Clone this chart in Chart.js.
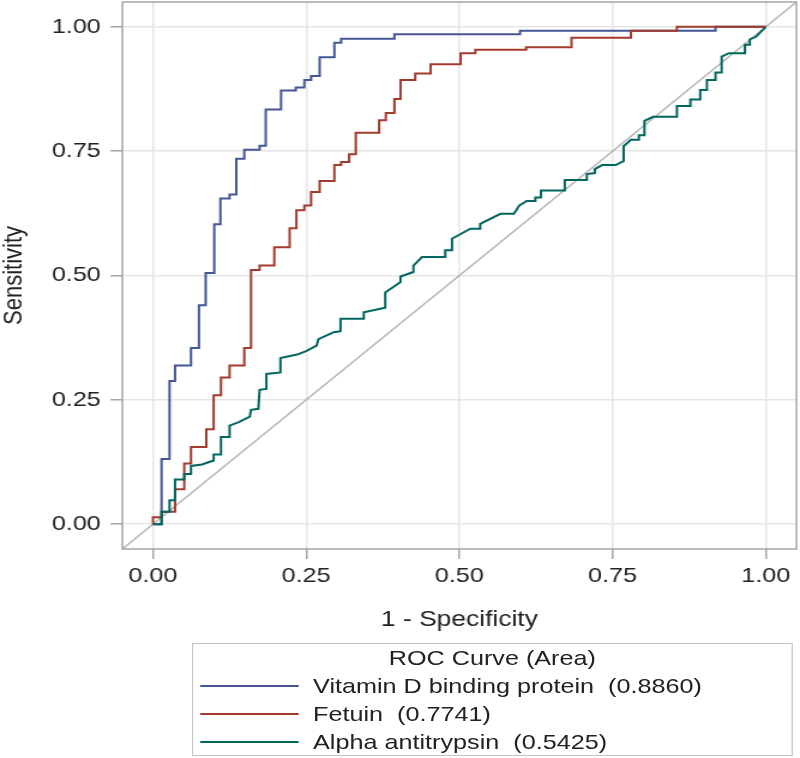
<!DOCTYPE html>
<html>
<head>
<meta charset="utf-8">
<script src="https://cdn.jsdelivr.net/npm/chart.js@4/dist/chart.umd.min.js"></script>
<style>
  html, body { margin: 0; padding: 0; background: #fff; overflow: hidden; }
  /* the reference plot is a square SAS graph stretched sideways, so draw narrow and stretch */
  #wrap { position: relative; width: 667px; height: 758px; transform: scaleX(1.1994); transform-origin: 0 0; }
  #roc { position: absolute; left: 0; top: 0; }
  #legend { position: absolute; left: 160px; top: 643px; width: 499px; height: 111px;
            border: 1px solid #c4c4c4; font: 21px "Liberation Sans", Arial, sans-serif; color: #222; }
  #legend .title { height: 28px; line-height: 28px; text-align: center; }
  #legend .row { position: relative; height: 28px; line-height: 28px; white-space: pre; }
  #legend .swatch { position: absolute; left: 6px; top: 13px; width: 82px; height: 0; border-top: 2px solid; }
  #legend .label { position: absolute; left: 100px; top: 0; }
</style>
</head>
<body>
<div id="wrap">
  <canvas id="roc" width="667" height="758"></canvas>
  <div id="legend"></div>
</div>
<script>
// axis setup
const tickValues = [0, 0.25, 0.5, 0.75, 1];
const axisMin = -0.05;
const axisMax = 1.05;

const legendTitle = 'ROC Curve (Area)';
const seriesNames = [
  'Vitamin D binding protein  (0.8860)',
  'Fetuin  (0.7741)',
  'Alpha antitrypsin  (0.5425)'
];
const seriesColors = ['#445694', '#A23A2E', '#01665E'];

// Vitamin D binding protein: 1 - specificity / sensitivity vertices
const vdbpFpr = [0, 0.014, 0.014, 0.027, 0.027, 0.036, 0.036, 0.062, 0.062, 0.075,
  0.075, 0.086, 0.086, 0.100, 0.100, 0.110, 0.110, 0.125, 0.125, 0.136,
  0.136, 0.149, 0.149, 0.174, 0.174, 0.184, 0.184, 0.209, 0.209, 0.233,
  0.233, 0.247, 0.247, 0.258, 0.258, 0.272, 0.272, 0.296, 0.296, 0.307,
  0.307, 0.394, 0.394, 0.599, 0.599, 0.918, 0.918, 1];
const vdbpTpr = [0, 0, 0.131, 0.131, 0.288, 0.288, 0.319, 0.319, 0.354, 0.354,
  0.440, 0.440, 0.505, 0.505, 0.603, 0.603, 0.655, 0.655, 0.663, 0.663,
  0.735, 0.735, 0.753, 0.753, 0.761, 0.761, 0.834, 0.834, 0.872, 0.872,
  0.878, 0.878, 0.893, 0.893, 0.901, 0.901, 0.939, 0.939, 0.968, 0.968,
  0.976, 0.976, 0.985, 0.985, 0.992, 0.992, 1, 1];

// Fetuin
const fetFpr = [0, 0, 0.014, 0.014, 0.036, 0.036, 0.051, 0.051, 0.062, 0.062,
  0.087, 0.087, 0.099, 0.099, 0.111, 0.111, 0.125, 0.125, 0.149, 0.149,
  0.160, 0.160, 0.174, 0.174, 0.198, 0.198, 0.223, 0.223, 0.234, 0.234,
  0.247, 0.247, 0.258, 0.258, 0.272, 0.272, 0.296, 0.296, 0.307, 0.307,
  0.320, 0.320, 0.331, 0.331, 0.369, 0.369, 0.380, 0.380, 0.394, 0.394,
  0.404, 0.404, 0.428, 0.428, 0.453, 0.453, 0.502, 0.502, 0.526, 0.526,
  0.609, 0.609, 0.683, 0.683, 0.780, 0.780, 0.855, 0.855, 1];
const fetTpr = [0, 0.014, 0.014, 0.025, 0.025, 0.070, 0.070, 0.122, 0.122, 0.155,
  0.155, 0.191, 0.191, 0.259, 0.259, 0.295, 0.295, 0.319, 0.319, 0.354,
  0.354, 0.511, 0.511, 0.520, 0.520, 0.557, 0.557, 0.595, 0.595, 0.631,
  0.631, 0.641, 0.641, 0.668, 0.668, 0.690, 0.690, 0.722, 0.722, 0.728,
  0.728, 0.744, 0.744, 0.787, 0.787, 0.812, 0.812, 0.827, 0.827, 0.855,
  0.855, 0.893, 0.893, 0.906, 0.906, 0.925, 0.925, 0.947, 0.947, 0.954,
  0.954, 0.959, 0.959, 0.978, 0.978, 0.992, 0.992, 1, 1];

// Alpha antitrypsin
const aatFpr = [0, 0.014, 0.014, 0.027, 0.027, 0.036, 0.036, 0.051, 0.051, 0.062,
  0.062, 0.080, 0.099, 0.099, 0.111, 0.111, 0.125, 0.125, 0.140, 0.158,
  0.160, 0.172, 0.174, 0.185, 0.185, 0.208, 0.208, 0.235, 0.250, 0.267,
  0.270, 0.295, 0.306, 0.306, 0.344, 0.344, 0.371, 0.379, 0.379, 0.404, 0.404, 0.425,
  0.425, 0.439, 0.477, 0.477, 0.488, 0.488, 0.518, 0.534, 0.534, 0.567,
  0.589, 0.598, 0.610, 0.624, 0.624, 0.633, 0.633, 0.672, 0.672, 0.708,
  0.708, 0.721, 0.721, 0.733, 0.755, 0.768, 0.768, 0.780, 0.793, 0.793,
  0.802, 0.802, 0.816, 0.855, 0.855, 0.877, 0.877, 0.893, 0.893, 0.904,
  0.904, 0.918, 0.918, 0.928, 0.928, 0.940, 0.966, 0.966, 0.974, 0.974,
  0.984, 1];
const aatTpr = [0, 0, 0.025, 0.025, 0.048, 0.048, 0.090, 0.090, 0.101, 0.101,
  0.117, 0.120, 0.128, 0.140, 0.140, 0.175, 0.175, 0.198, 0.205, 0.216,
  0.230, 0.232, 0.270, 0.272, 0.302, 0.305, 0.334, 0.341, 0.348, 0.359,
  0.372, 0.386, 0.388, 0.413, 0.413, 0.426, 0.433, 0.435, 0.466, 0.487, 0.498, 0.507,
  0.520, 0.537, 0.537, 0.551, 0.551, 0.574, 0.594, 0.594, 0.604, 0.624,
  0.624, 0.641, 0.650, 0.650, 0.657, 0.657, 0.671, 0.671, 0.692, 0.692,
  0.704, 0.706, 0.714, 0.722, 0.722, 0.730, 0.760, 0.773, 0.773, 0.782,
  0.782, 0.811, 0.819, 0.819, 0.841, 0.841, 0.854, 0.854, 0.873, 0.873,
  0.893, 0.893, 0.908, 0.908, 0.940, 0.947, 0.947, 0.964, 0.964, 0.975,
  0.980, 1];

// chance diagonal, corner to corner of the frame
const diagX = [-0.05, 1.05];
const diagY = [-0.05, 1.05];

const toPoints = (xs, ys) => xs.map((x, i) => ({ x: x, y: ys[i] }));

Chart.defaults.font.family = '"Liberation Sans", Arial, sans-serif';
Chart.defaults.color = '#222';

// grey box round the plot area
const framePlugin = {
  id: 'frame',
  afterDatasetsDraw(chart) {
    const { ctx, chartArea: a } = chart;
    ctx.save();
    ctx.strokeStyle = '#a6a6a6';
    ctx.lineWidth = 1.5;
    ctx.strokeRect(a.left, a.top, a.right - a.left, a.bottom - a.top);
    ctx.restore();
  }
};

const curve = (i, xs, ys, order) => ({
  label: seriesNames[i],
  data: toPoints(xs, ys),
  borderColor: seriesColors[i],
  borderWidth: 2,
  showLine: true,
  pointRadius: 0,
  fill: false,
  order: order
});

const gridOpts = { color: '#e6e6e6', lineWidth: 1.5, tickColor: '#a6a6a6', tickLength: 10 };

new Chart(document.getElementById('roc'), {
  type: 'scatter',
  data: {
    datasets: [
      curve(0, vdbpFpr, vdbpTpr, 3),
      curve(1, fetFpr, fetTpr, 2),
      curve(2, aatFpr, aatTpr, 1),
      {
        label: 'diagonal',
        data: toPoints(diagX, diagY),
        borderColor: '#b4b4b4',
        borderWidth: 1.5,
        showLine: true,
        pointRadius: 0,
        order: 4
      }
    ]
  },
  options: {
    responsive: false,
    animation: false,
    devicePixelRatio: 1,
    layout: { autoPadding: false, padding: { top: 2, right: 3, left: 0, bottom: 0 } },
    plugins: { legend: { display: false }, tooltip: { enabled: false } },
    scales: {
      x: {
        type: 'linear',
        min: axisMin,
        max: axisMax,
        afterBuildTicks: s => { s.ticks = tickValues.map(v => ({ value: v })); },
        afterFit: s => { s.height = 209; s.paddingLeft = 0; s.paddingRight = 0; s.paddingTop = 0; s.paddingBottom = 0; },
        ticks: { font: { size: 21 }, padding: 5, callback: v => v.toFixed(2) },
        grid: gridOpts,
        border: { display: false },
        title: { display: true, text: '1 - Specificity', font: { size: 22, lineHeight: 1 }, padding: { top: 0, bottom: 127 } }
      },
      y: {
        type: 'linear',
        min: axisMin,
        max: axisMax,
        afterBuildTicks: s => { s.ticks = tickValues.map(v => ({ value: v })); },
        afterFit: s => { s.width = 102; s.paddingLeft = 0; s.paddingRight = 0; s.paddingTop = 0; s.paddingBottom = 0; },
        ticks: { font: { size: 21 }, padding: 8, callback: v => v.toFixed(2) },
        grid: gridOpts,
        border: { display: false },
        title: { display: true, text: 'Sensitivity', font: { size: 22, lineHeight: 1 }, padding: { top: 1, bottom: 0 } }
      }
    }
  },
  plugins: [framePlugin]
});

// legend box built from the same names and colours
const legend = document.getElementById('legend');
const head = document.createElement('div');
head.className = 'title';
head.textContent = legendTitle;
legend.appendChild(head);
seriesNames.forEach((name, i) => {
  const row = document.createElement('div');
  row.className = 'row';
  const sw = document.createElement('span');
  sw.className = 'swatch';
  sw.style.borderTopColor = seriesColors[i];
  const lab = document.createElement('span');
  lab.className = 'label';
  lab.textContent = name;
  row.appendChild(sw);
  row.appendChild(lab);
  legend.appendChild(row);
});
</script>
</body>
</html>
